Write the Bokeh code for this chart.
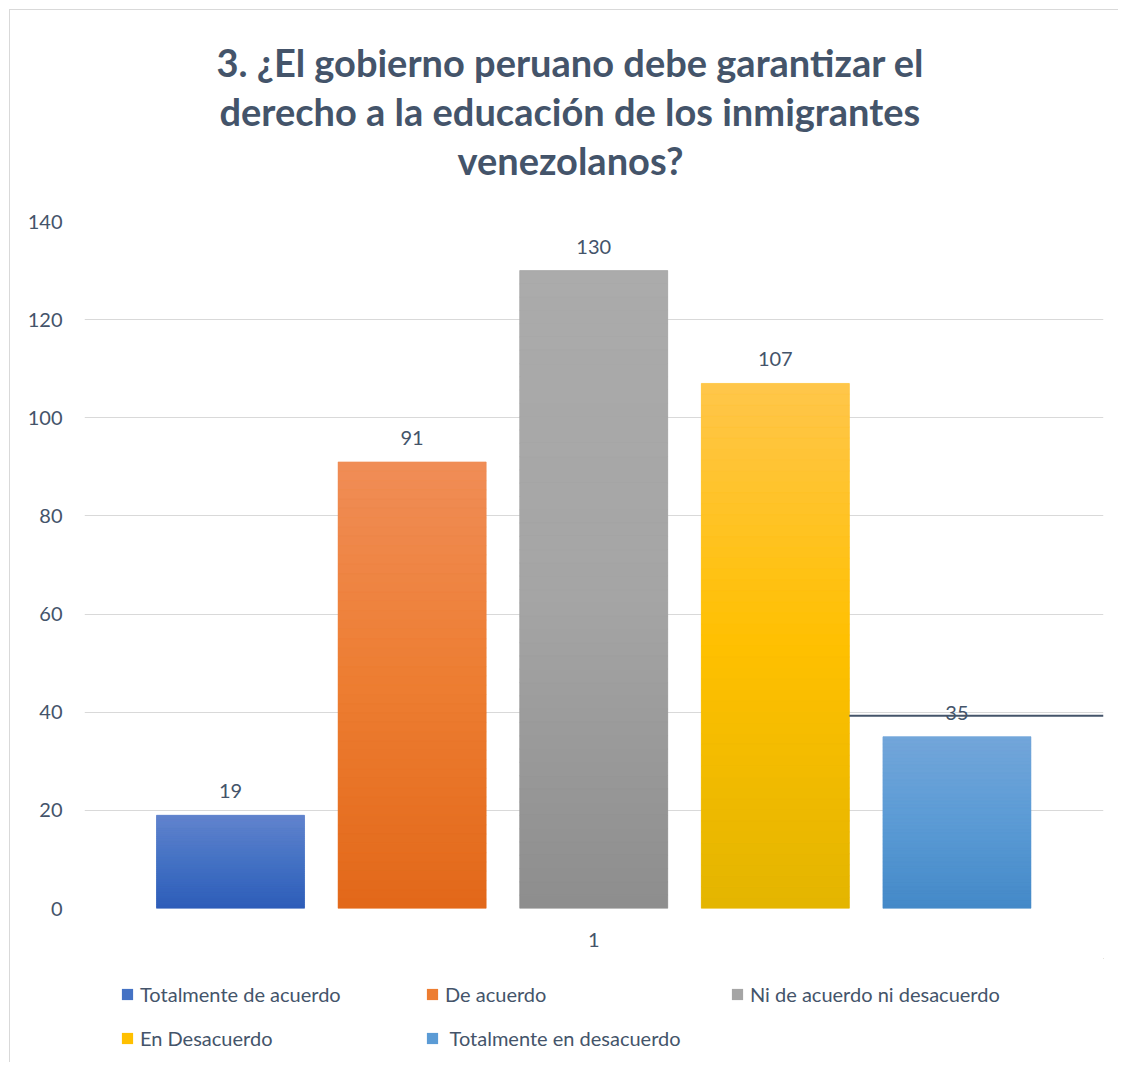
from bokeh.plotting import figure
from bokeh.layouts import column
from bokeh.models import (ColumnDataSource, Range1d, FixedTicker, LabelSet,
                          Legend, LegendItem, Title)
from bokeh.embed import file_html
from bokeh.resources import INLINE
from bokeh.core.properties import value

# ---------------- data ----------------
title_lines = ["3. ¿El gobierno peruano debe garantizar el",
               "derecho a la educación de los inmigrantes",
               "venezolanos?"]
categories = ["Totalmente de acuerdo", "De acuerdo", "Ni de acuerdo ni desacuerdo",
              "En Desacuerdo", " Totalmente en desacuerdo"]
counts = [19, 91, 130, 107, 35]
group_label = "1"
y_ticks = [0, 20, 40, 60, 80, 100, 120, 140]

top_colors = ["#6384CE", "#F08D57", "#ABABAB", "#FFC64B", "#73A6DA"]
mid_colors = ["#4472C4", "#ED7D31", "#A5A5A5", "#FFC000", "#5B9BD5"]
bottom_colors = ["#2E5DB9", "#E2681A", "#8E8E8E", "#E3B500", "#4489C8"]

stray_line_y = 39.3

# ---------------- style ----------------
FONT = "Lato"
TXT = "#44546A"
BAR_W = 0.815
X0, X1 = -0.804, 4.807
TITLE_SIZE = 38
TITLE_OFFSETS = [132, 135, 373]   # left offsets (px) to centre each title line on the chart area


def hex2rgb(h):
    h = h.lstrip("#")
    return tuple(int(h[i:i + 2], 16) for i in (0, 2, 4))


def mix(a, b, t):
    ra, rb = hex2rgb(a), hex2rgb(b)
    return "#%02x%02x%02x" % tuple(int(round(ra[k] + (rb[k] - ra[k]) * t)) for k in range(3))


xs = list(range(len(categories)))
src = ColumnDataSource(dict(x=xs, v=counts, mid=mid_colors, txt=[str(c) for c in counts]))

# gradient slices derived from the bar values
N = 48
gl, gr, gt, gb, gc = [], [], [], [], []
for i, v in enumerate(counts):
    for k in range(N):
        top = v * (N - k) / N
        bot = v * (N - k - 1) / N
        t = (k + 0.5) / N
        if t < 0.5:
            col = mix(top_colors[i], mid_colors[i], t / 0.5)
        else:
            col = mix(mid_colors[i], bottom_colors[i], (t - 0.5) / 0.5)
        gl.append(xs[i] - BAR_W / 2)
        gr.append(xs[i] + BAR_W / 2)
        gt.append(top)
        gb.append(bot)
        gc.append(col)
gsrc = ColumnDataSource(dict(left=gl, right=gr, top=gt, bottom=gb, color=gc))

# ---------------- main chart ----------------
p = figure(width=1108, height=948, x_range=Range1d(X0, X1), y_range=Range1d(0, 140),
           output_backend="svg", toolbar_location=None,
           min_border_left=74, min_border_right=15, min_border_top=211, min_border_bottom=50)
p.outline_line_color = None
p.background_fill_color = "white"
p.border_fill_color = "white"

for ax in (p.xaxis[0], p.yaxis[0]):
    ax.axis_line_color = None
    ax.major_tick_line_color = None
    ax.minor_tick_line_color = None
    ax.major_tick_out = 0
    ax.major_tick_in = 0
    ax.minor_tick_out = 0
    ax.minor_tick_in = 0
    ax.major_label_text_font = FONT
    ax.major_label_text_font_size = "20px"
    ax.major_label_text_color = TXT

p.yaxis.ticker = FixedTicker(ticks=y_ticks)
p.yaxis.major_label_standoff = 22
p.xaxis.ticker = FixedTicker(ticks=[2])
p.xaxis.major_label_overrides = {2: group_label}
p.xaxis.major_label_standoff = 24

p.xgrid.visible = False
p.ygrid.grid_line_color = "#D9D9D9"
p.ygrid.grid_line_width = 1.2

p.vbar(x="x", width=BAR_W, top="v", bottom=0, source=src, fill_color="mid", line_color=None)
p.quad(left="left", right="right", top="top", bottom="bottom", source=gsrc,
       fill_color="color", line_color="color", line_width=0.6)

# stray line
p.segment(x0=[xs[3] + BAR_W / 2], y0=[stray_line_y], x1=[X1], y1=[stray_line_y],
          line_color=TXT, line_width=2)

# value labels
p.add_layout(LabelSet(x="x", y="v", text="txt", source=src, text_align="center",
                      text_baseline="alphabetic", y_offset=17, text_font=value(FONT),
                      text_font_size="20px", text_color=TXT))

# title: spacer nearest the plot, then lines from bottom to top
p.add_layout(Title(text=" ", text_font_size="1px", standoff=35), "above")
for j in (2, 1, 0):
    p.add_layout(Title(text=title_lines[j], align="left", offset=TITLE_OFFSETS[j],
                       vertical_align="bottom", text_font=FONT, text_font_style="bold",
                       text_font_size=f"{TITLE_SIZE}px", text_color=TXT, standoff=1.2), "above")

# ---------------- legend strip ----------------
# the strip's ranges lie away from the data and the key bars have no width,
# so only the legend swatches are seen
lg = figure(width=1108, height=104, x_range=Range1d(-20, -19), y_range=Range1d(-20, -19),
            output_backend="svg", toolbar_location=None,
            x_axis_location=None, y_axis_location=None, min_border=0)
lg.outline_line_color = None
lg.grid.visible = False
lg.background_fill_color = "white"
lg.border_fill_color = "white"
key = lg.vbar(x="x", width=0, top="v", bottom=0, source=src, fill_color="mid", line_color=None)
items = [LegendItem(label=categories[i], renderers=[key], index=i) for i in range(len(categories))]
legend = Legend(items=items, location=(36, 12), orientation="horizontal", ncols=3,
                glyph_width=14, glyph_height=14, label_standoff=6, label_width=265,
                label_height=20, spacing=20, padding=0, margin=0,
                border_line_color=None, background_fill_alpha=0,
                label_text_font=FONT, label_text_font_size="20px", label_text_color=TXT)
lg.add_layout(legend)

layout = column(p, lg, spacing=0)
layout.styles = {"margin-left": "9px", "margin-top": "9px",
                 "border-left": "1px solid #D9D9D9", "border-top": "1px solid #D9D9D9"}

open("out.html", "w").write(file_html(layout, INLINE))
